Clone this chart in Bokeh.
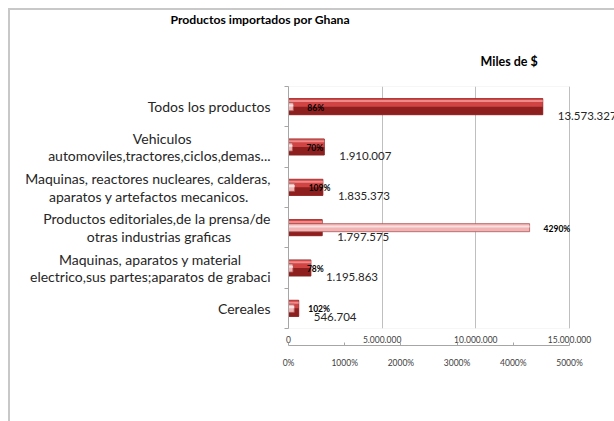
from bokeh.plotting import figure
from bokeh.models import (Range1d, LinearAxis, FixedTicker, LabelSet, Title,
                          ColumnDataSource, Legend, LegendItem, BoxAnnotation)
from bokeh.core.properties import value
from bokeh.embed import file_html
from bokeh.resources import INLINE

# ---- data ----
categories = [
    "Cereales",
    "Maquinas, aparatos y material\nelectrico,sus partes;aparatos de grabaci",
    "Productos editoriales,de la prensa/de\notras industrias graficas",
    "Maquinas, reactores nucleares, calderas,\naparatos y artefactos mecanicos.",
    "Vehiculos\nautomoviles,tractores,ciclos,demas...",
    "Todos los productos",
]
importaciones_2011 = [546704, 1195863, 1797575, 1835373, 1910007, 13573327]
variacion_2007_2011 = [102, 78, 4290, 109, 70, 86]
x_ticks = [0, 5000000, 10000000, 15000000]
pct_ticks = [0, 1000, 2000, 3000, 4000, 5000]
title_text = "Productos importados por Ghana"
units_text = "Miles de $"
series_names = ["Importaciones 2011", "Variación 2007-2011"]

FONT = "Lato"
CAT_SIZE = 14
ypos = [i + 0.5 for i in range(len(categories))]

# approximate Lato advance widths (em) to centre the lines of a
# right-aligned multi-line tick label with trailing no-break spaces
_W = {"a": .49, "b": .54, "c": .45, "d": .54, "e": .51, "f": .31, "g": .49,
      "h": .54, "i": .23, "j": .23, "k": .47, "l": .23, "m": .81, "n": .54,
      "o": .54, "p": .53, "q": .54, "r": .35, "s": .40, "t": .33, "u": .54,
      "v": .48, "w": .74, "x": .47, "y": .48, "z": .42, " ": .193, ",": .2,
      ".": .2, ";": .22, "/": .35, "V": .65, "M": .85, "P": .57, "T": .55,
      "C": .64}
NBSP_W = 0.245


def _width(s):
    return sum(_W.get(ch, .5) for ch in s)


def centred(label):
    lines = label.split("\n")
    wmax = max(_width(l) for l in lines)
    out = []
    for l in lines:
        n = int(round((wmax - _width(l)) / 2 / NBSP_W))
        out.append(l + "\u00a0" * n)
    return "\n".join(out)


# plot area 281px wide for 0..15M; frame extended to the right edge so the
# outside-end data label stays visible
FRAME_W = 326
x_max = x_ticks[-1] * FRAME_W / 281
pct_max = pct_ticks[-1] * FRAME_W / 281

src = ColumnDataSource(dict(
    y=ypos,
    imp=importaciones_2011,
    var=variacion_2007_2011,
    imp_lbl=[f"{v:,}".replace(",", ".") for v in importaciones_2011],
    var_lbl=[f"{v}%" for v in variacion_2007_2011],
    y_low=[y - 0.1 for y in ypos],
    y_hi=[y + 0.14 for y in ypos],
    y_var_hi=[y + 0.03 for y in ypos],
))

p = figure(frame_width=FRAME_W, frame_height=242,
           min_border_left=288, min_border_right=0, min_border_top=86,
           min_border_bottom=0,
           x_range=Range1d(0, x_max), y_range=Range1d(0, len(categories)),
           output_backend="svg", toolbar_location=None)
p.border_fill_color = None
p.background_fill_color = None
p.outline_line_color = None
p.styles = {
    "background": "linear-gradient(#C8C8C8,#C8C8C8) 8px 8px / 2px 100% no-repeat,"
                  " linear-gradient(#C8C8C8,#C8C8C8) 8px 8px / 100% 2px no-repeat"
}
p.extra_x_ranges = {"pct": Range1d(0, pct_max)}

# title
p.title.text = title_text
p.title.text_font = FONT
p.title.text_font_size = "12.2px"
p.title.text_font_style = "bold"
p.title.text_color = "#000000"
p.title.align = "left"
p.title.offset = -118
p.title.standoff = 13

units = Title(text=units_text, text_font=FONT, text_font_size="12.5px",
              text_font_style="bold", text_color="#000000",
              align="left", offset=192, standoff=36)
p.add_layout(units, "above")

# plot-area border (0..15M)
p.add_layout(BoxAnnotation(left=x_ticks[0], right=x_ticks[-1], bottom=0,
                           top=len(categories), fill_color=None,
                           line_color="#BFBFBF", line_width=1, level="underlay"))

# grid
p.ygrid.grid_line_color = None
p.xgrid.grid_line_color = "#BFBFBF"
p.xgrid.ticker = FixedTicker(ticks=x_ticks)

# primary x axis
xa = p.xaxis[0]
xa.ticker = FixedTicker(ticks=x_ticks)
xa.major_label_overrides = {t: f"{t:,}".replace(",", ".") for t in x_ticks}
xa.axis_line_color = None
xa.major_tick_line_color = None
xa.minor_tick_line_color = None
xa.major_label_text_font = FONT
xa.major_label_text_font_size = "8.5px"
xa.major_label_text_color = "#404040"
xa.major_label_standoff = 1

# secondary x axis
xa2 = LinearAxis(x_range_name="pct", ticker=FixedTicker(ticks=pct_ticks),
                 bounds=(pct_ticks[0], pct_ticks[-1]))
xa2.major_label_overrides = {t: f"{t}%" for t in pct_ticks}
xa2.axis_line_color = "#A6A6A6"
xa2.major_tick_line_color = "#A6A6A6"
xa2.major_tick_in = 3
xa2.major_tick_out = 0
xa2.minor_tick_line_color = None
xa2.major_label_text_font = FONT
xa2.major_label_text_font_size = "8.5px"
xa2.major_label_text_color = "#404040"
xa2.major_label_standoff = 12
p.add_layout(xa2, "below")

# y axis with category labels
ya = p.yaxis[0]
ya.ticker = FixedTicker(ticks=ypos, minor_ticks=list(range(len(categories) + 1)))
ya.major_label_overrides = {y: centred(c) for y, c in zip(ypos, categories)}
ya.major_label_text_font = FONT
ya.major_label_text_font_size = f"{CAT_SIZE}px"
ya.major_label_text_color = "#262626"
ya.major_label_text_line_height = 1.02
ya.major_label_standoff = 14
ya.major_tick_line_color = None
ya.major_tick_out = 0
ya.axis_line_color = "#A6A6A6"
ya.minor_tick_line_color = "#A6A6A6"
ya.minor_tick_out = 4
ya.minor_tick_in = 0

# bars: importaciones (pseudo 3D with layered bars)
r_imp = p.hbar(y="y", right="imp", left=0, height=0.4, source=src,
               fill_color="#8E1F1F", line_color="#6E1414", line_width=0.8)
p.hbar(y="y", right="imp", left=0, height=0.4, source=src,
       fill_color="#D04444", line_color=None)
p.hbar(y="y_low", right="imp", left=0, height=0.2, source=src,
       fill_color="#8E1F1F", line_color=None)
p.hbar(y="y_hi", right="imp", left=0, height=0.05, source=src,
       fill_color="#EE8A8A", line_color=None)

# bars: variacion
r_var = p.hbar(y="y", right="var", left=0, height=0.2, source=src,
               x_range_name="pct", fill_color="#F0B4B4",
               line_color="#B05555", line_width=0.8)
p.hbar(y="y_var_hi", right="var", left=0, height=0.05, source=src,
       x_range_name="pct", fill_color="#FBE0E0", line_color=None)

# data labels
p.add_layout(LabelSet(x="imp", y="y", text="imp_lbl", source=src,
                      x_offset=15, y_offset=-9, text_font=value(FONT),
                      text_font_size=value("11.5px"), text_color="#262626",
                      text_baseline="middle"))
p.add_layout(LabelSet(x="var", y="y", text="var_lbl", source=src,
                      x_range_name="pct", x_offset=14, y_offset=-1,
                      text_font=value(FONT), text_font_size=value("8.5px"),
                      text_font_style="bold", text_color="#000000",
                      text_baseline="middle"))

legend = Legend(items=[LegendItem(label=series_names[0], renderers=[r_imp]),
                       LegendItem(label=series_names[1], renderers=[r_var])],
                location=(-76, 12), orientation="horizontal",
                border_line_color=None, background_fill_alpha=0,
                padding=0, margin=20, spacing=20,
                glyph_width=7, glyph_height=7, label_standoff=3,
                label_text_font=FONT, label_text_font_size="11.5px",
                label_text_color="#262626", label_height=12)
p.add_layout(legend, "below")

open("out.html", "w").write(file_html(p, INLINE))
